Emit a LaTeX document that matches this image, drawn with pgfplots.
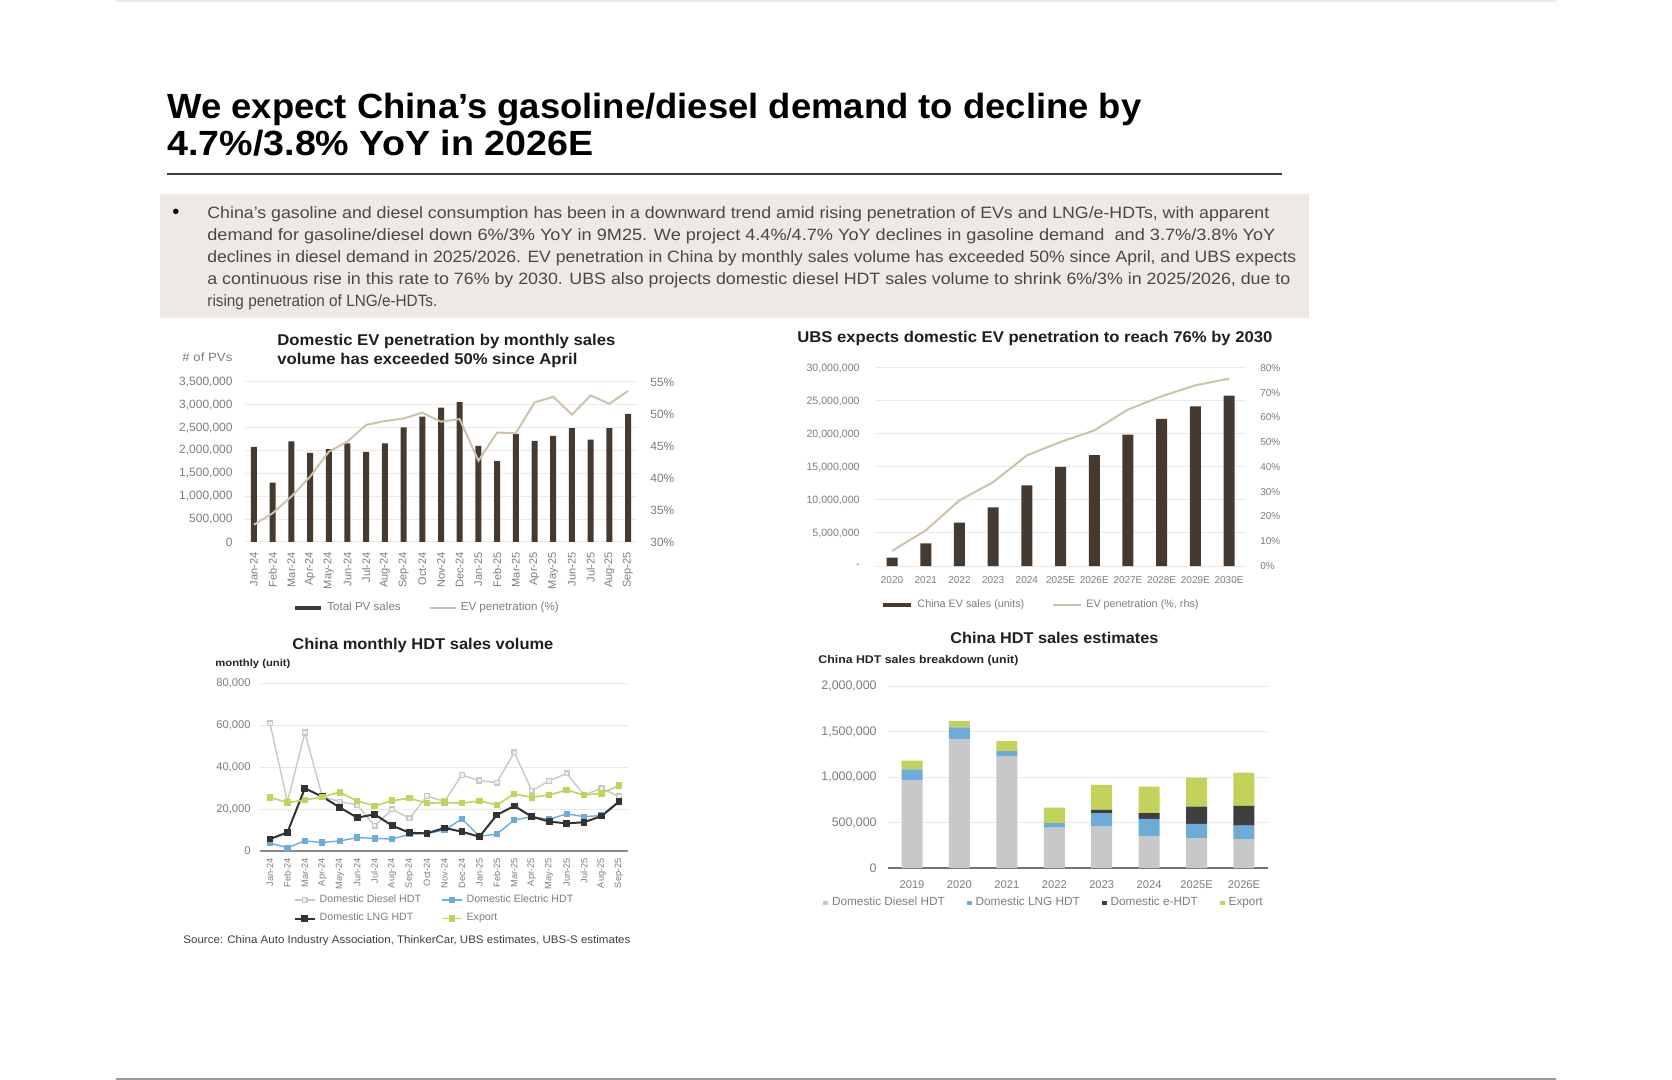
\documentclass[border=0pt]{standalone}
\usepackage{graphicx}
\usepackage{pgfplots}
\pgfplotsset{compat=1.18}
\usepackage{fontspec}
\setmainfont{Liberation Sans}
\setsansfont{Liberation Sans}
\definecolor{barbrown}{RGB}{70,57,48}
\definecolor{beige}{RGB}{206,195,168}
\definecolor{tickgray}{RGB}{125,125,125}
\definecolor{gridgray}{RGB}{234,234,234}
\definecolor{boxgray}{RGB}{237,234,230}
\definecolor{bodygray}{RGB}{72,72,72}
\definecolor{dieselgray}{RGB}{200,200,200}
\definecolor{elecblue}{RGB}{108,172,215}
\definecolor{lngblack}{RGB}{50,50,50}
\definecolor{exportgreen}{RGB}{196,210,92}
\definecolor{ehdt}{RGB}{62,62,62}
\newcommand{\fw}[2]{\resizebox{#1}{\height}{#2}}
\pgfplotsset{
  slide/.style={scale only axis, axis line style={draw=none},
    major tick style={draw=none}, minor tick style={draw=none},
    ymajorgrids, grid style={draw=gridgray, line width=0.5pt},
    every tick label/.append style={inner sep=0pt, text=tickgray},
    /pgf/number format/assume math mode=true,
    scaled y ticks=false,
    yticklabel style={/pgf/number format/fixed, /pgf/number format/1000 sep={,}},
    clip=false,
    legend style={draw=none, fill=none, text=tickgray, inner sep=0pt},
    legend cell align=left,
  }
}
\begin{document}
\begin{tikzpicture}
\useasboundingbox (0,0) rectangle (836pt,-540pt);
\fill[white] (0,0) rectangle (836pt,-540pt);
\begin{scope}[x=0.5pt,y=-0.5pt]
\draw[black!8, line width=0.8pt] (116,1) -- (1557,1);
\draw[black!40, line width=1pt] (116,1078.5) -- (1556,1078.5);
\node[anchor=base west, inner sep=0pt, font=\bfseries\fontsize{17.5}{18}\selectfont] at (167,119) {\fw{487pt}{We expect China's gasoline/diesel demand to decline by}};
\node[anchor=base west, inner sep=0pt, font=\bfseries\fontsize{17.5}{18}\selectfont] at (167,156) {\fw{213pt}{4.7\%/3.8\% YoY in 2026E}};
\draw[black!75, line width=1pt] (167,174) -- (1282,174);
\fill[boxgray] (160,194) rectangle (1309,318);
\node[anchor=base west, inner sep=0pt, font=\fontsize{10}{10}\selectfont] at (172,219) {\textbullet};
\begin{scope}[every node/.style={anchor=base west, inner sep=0pt, text=bodygray, font=\fontsize{8.2}{9}\selectfont}]
\node at (207,218.6) {\fw{531pt}{China's gasoline and diesel consumption has been in a downward trend amid rising penetration of EVs and LNG/e-HDTs, with apparent}};
\node at (207,240.5) {\fw{534pt}{demand for gasoline/diesel down 6\%/3\% YoY in 9M25. We project 4.4\%/4.7\% YoY declines in gasoline demand \ and 3.7\%/3.8\% YoY}};
\node at (207,262.4) {\fw{544.5pt}{declines in diesel demand in 2025/2026. EV penetration in China by monthly sales volume has exceeded 50\% since April, and UBS expects}};
\node at (207,284.3) {\fw{541.5pt}{a continuous rise in this rate to 76\% by 2030. UBS also projects domestic diesel HDT sales volume to shrink 6\%/3\% in 2025/2026, due to}};
\node at (207,306.2) {\fw{115pt}{rising penetration of LNG/e-HDTs.}};
\end{scope}
\begin{scope}[every node/.style={anchor=base west, inner sep=0pt, text=black!88, font=\bfseries\fontsize{7.8}{8}\selectfont}]
\node at (277,345.7) {\fw{169pt}{Domestic EV penetration by monthly sales}};
\node at (277,365) {\fw{150pt}{volume has exceeded 50\% since April}};
\node at (797,343) {\fw{237.5pt}{UBS expects domestic EV penetration to reach 76\% by 2030}};
\node at (292,650) {\fw{130.5pt}{China monthly HDT sales volume}};
\node at (950,644) {\fw{104pt}{China HDT sales estimates}};
\end{scope}
\node[anchor=base west, inner sep=0pt, text=tickgray, font=\fontsize{6}{6}\selectfont] at (182,361.7) {\fw{25pt}{\# of PVs}};
\node[anchor=base west, inner sep=0pt, text=black!85, font=\bfseries\fontsize{5}{5}\selectfont] at (215,666.7) {\fw{37.5pt}{monthly (unit)}};
\node[anchor=base west, inner sep=0pt, text=black!85, font=\bfseries\fontsize{5.6}{6}\selectfont] at (818,663) {\fw{100pt}{China HDT sales breakdown (unit)}};
\node[anchor=base west, inner sep=0pt, text=black!75, font=\fontsize{5.5}{6}\selectfont] at (183,943) {\fw{223.5pt}{Source: China Auto Industry Association, ThinkerCar, UBS estimates, UBS-S estimates}};
\end{scope}

% ---------- Chart 1 ----------
\begin{axis}[slide, at={(122.3pt,-271pt)}, anchor=south west, width=196.4pt, height=80pt,
  xmin=-0.5, xmax=20.5, ymin=0, ymax=3500000,
  ytick={0,500000,1000000,1500000,2000000,2500000,3000000,3500000},
  xtick={0,...,20},
  xticklabels={Jan-24,Feb-24,Mar-24,Apr-24,May-24,Jun-24,Jul-24,Aug-24,Sep-24,Oct-24,Nov-24,Dec-24,Jan-25,Feb-25,Mar-25,Apr-25,May-25,Jun-25,Jul-25,Aug-25,Sep-25},
  xticklabel style={rotate=90, anchor=east, font=\fontsize{5.5}{6}\selectfont},
  xticklabel shift=5pt,
  yticklabel style={font=\fontsize{6}{6}\selectfont}, yticklabel shift=5.8pt]
\addplot[ybar, bar width=3pt, fill=barbrown, draw=none] coordinates {
(0,2080000) (1,1300000) (2,2200000) (3,1950000) (4,2030000) (5,2160000) (6,1970000)
(7,2160000) (8,2510000) (9,2740000) (10,2940000) (11,3060000) (12,2100000) (13,1770000)
(14,2360000) (15,2210000) (16,2320000) (17,2490000) (18,2240000) (19,2490000) (20,2800000)};
\end{axis}
\begin{axis}[slide, at={(122.3pt,-271pt)}, anchor=south west, width=196.4pt, height=80pt,
  xmin=-0.5, xmax=20.5, ymin=30, ymax=55, ymajorgrids=false,
  hide x axis, axis y line*=right,
  ytick={30,35,40,45,50,55}, yticklabel={\pgfmathprintnumber{\tick}\%},
  yticklabel style={font=\fontsize{6}{6}\selectfont}, yticklabel shift=6.3pt,
  legend style={at={(0.467,-0.4125)}, anchor=center, legend columns=2,
    font=\fontsize{5.8}{6}\selectfont, /tikz/every even column/.append style={column sep=12pt}},
  legend image code/.code={\draw[#1] (0pt,0pt) -- (13pt,0pt);}]
\addlegendimage{barbrown, line width=2pt}
\addlegendentry{Total PV sales}
\addplot[beige, line width=1pt] coordinates {
(0,32.7) (1,34.5) (2,37.1) (3,40.2) (4,44.1) (5,45.7) (6,48.3) (7,48.9) (8,49.3) (9,50.2)
(10,48.8) (11,49.2) (12,42.7) (13,47.1) (14,47.0) (15,51.8) (16,52.7) (17,49.9) (18,52.9)
(19,51.6) (20,53.6)};
\addlegendentry{EV penetration (\%)}
\end{axis}

% ---------- Chart 2 ----------
\begin{axis}[slide, at={(437.6pt,-283pt)}, anchor=south west, width=185.35pt, height=99pt,
  xmin=-0.5, xmax=10.5, ymin=0, ymax=30000000,
  ytick={0,5000000,10000000,15000000,20000000,25000000,30000000},
  yticklabels={-,{5,000,000},{10,000,000},{15,000,000},{20,000,000},{25,000,000},{30,000,000}},
  xtick={0,...,10},
  xticklabels={2020,2021,2022,2023,2024,2025E,2026E,2027E,2028E,2029E,2030E},
  xticklabel style={anchor=north, font=\fontsize{5}{5}\selectfont}, xticklabel shift=5pt,
  yticklabel style={font=\fontsize{5.3}{6}\selectfont}, yticklabel shift=7.6pt]
\addplot[ybar, bar width=5.5pt, fill=barbrown, draw=none] coordinates {
(0,1260000) (1,3430000) (2,6570000) (3,8890000) (4,12200000) (5,15000000) (6,16800000)
(7,19900000) (8,22300000) (9,24200000) (10,25800000)};
\end{axis}
\begin{axis}[slide, at={(437.6pt,-283pt)}, anchor=south west, width=185.35pt, height=99pt,
  xmin=-0.5, xmax=10.5, ymin=0, ymax=80, ymajorgrids=false,
  hide x axis, axis y line*=right,
  ytick={0,10,20,30,40,50,60,70,80}, yticklabel={\pgfmathprintnumber{\tick}\%},
  yticklabel style={font=\fontsize{5}{5}\selectfont}, yticklabel shift=7pt,
  legend style={at={(0.45,-0.197)}, anchor=center, legend columns=2,
    font=\fontsize{5.4}{6}\selectfont, /tikz/every even column/.append style={column sep=12pt}},
  legend image code/.code={\draw[#1] (0pt,0pt) -- (14pt,0pt);}]
\addlegendimage{barbrown, line width=2pt}
\addlegendentry{China EV sales (units)}
\addplot[beige, line width=1pt] coordinates {
(0,6.1) (1,14.4) (2,26.5) (3,33.9) (4,44.7) (5,50.1) (6,54.8) (7,63.2) (8,68.6) (9,73.0) (10,75.7)};
\addlegendentry{EV penetration (\%, rhs)}
\end{axis}

% ---------- Chart 3 ----------
\begin{axis}[slide, at={(129.75pt,-425.5pt)}, anchor=south west, width=184.1pt, height=83.85pt,
  xmin=-0.6, xmax=20.5, ymin=0, ymax=80000,
  ytick={0,20000,40000,60000,80000},
  extra y ticks={0}, extra y tick labels={},
  extra y tick style={grid style={draw=black!45, line width=1.1pt}},
  xtick={0,...,20},
  xticklabels={Jan-24,Feb-24,Mar-24,Apr-24,May-24,Jun-24,Jul-24,Aug-24,Sep-24,Oct-24,Nov-24,Dec-24,Jan-25,Feb-25,Mar-25,Apr-25,May-25,Jun-25,Jul-25,Aug-25,Sep-25},
  xticklabel style={rotate=90, anchor=east, font=\fontsize{4.6}{5}\selectfont},
  xticklabel shift=3.5pt,
  yticklabel style={font=\fontsize{5.6}{6}\selectfont}, yticklabel shift=4.25pt,
  legend style={at={(0.478,-0.347)}, anchor=center, legend columns=2,
    font=\fontsize{5.3}{6}\selectfont, row sep=0pt,
    /tikz/every even column/.append style={column sep=8pt}},
  legend image code/.code={\draw[mark repeat=2, mark phase=2, #1] plot coordinates {(0pt,0pt) (5pt,0pt) (10pt,0pt)};},
  every axis plot/.append style={mark=square*, mark size=1.2pt}]
\addplot[dieselgray, line width=0.7pt, mark options={fill=white!70!dieselgray}] coordinates {
(0,60900) (1,23500) (2,56500) (3,26000) (4,23500) (5,22000) (6,12100) (7,19900) (8,15600)
(9,26300) (10,23600) (11,36300) (12,33600) (13,32600) (14,47100) (15,28800) (16,33400)
(17,37100) (18,26700) (19,29900) (20,26000)};
\addlegendentry{Domestic Diesel HDT}
\addplot[elecblue, line width=0.7pt] coordinates {
(0,3700) (1,1600) (2,4800) (3,4100) (4,4800) (5,6400) (6,6000) (7,5700) (8,8000) (9,8400)
(10,10000) (11,15300) (12,7000) (13,8100) (14,14800) (15,16400) (16,15100) (17,17700)
(18,16400) (19,16900) (20,23500)};
\addlegendentry{Domestic Electric HDT}
\addplot[lngblack, line width=1pt] coordinates {
(0,5700) (1,8900) (2,29900) (3,25900) (4,20800) (5,15900) (6,17500) (7,12100) (8,8700)
(9,8400) (10,11000) (11,9200) (12,6800) (13,17200) (14,21500) (15,16400) (16,14000)
(17,13200) (18,13700) (19,16700) (20,23500)};
\addlegendentry{Domestic LNG HDT}
\addplot[exportgreen, line width=0.8pt] coordinates {
(0,25600) (1,23100) (2,24300) (3,25900) (4,28000) (5,23900) (6,21500) (7,24000) (8,25200)
(9,22800) (10,23100) (11,22800) (12,23900) (13,22000) (14,27200) (15,25600) (16,26700)
(17,29100) (18,26700) (19,27500) (20,31200)};
\addlegendentry{Export}
\end{axis}

% ---------- Chart 4 ----------
\begin{axis}[slide, ybar stacked, bar width=10.5pt,
  at={(444.15pt,-434pt)}, anchor=south west, width=189.7pt, height=91pt,
  xmin=-0.5, xmax=7.5, ymin=0, ymax=2000000,
  ytick={0,500000,1000000,1500000,2000000},
  extra y ticks={0}, extra y tick labels={},
  extra y tick style={grid style={draw=black!55, line width=1.1pt}},
  xtick={0,...,7},
  xticklabels={2019,2020,2021,2022,2023,2024,2025E,2026E},
  xticklabel style={anchor=north, font=\fontsize{5.6}{6}\selectfont}, xticklabel shift=6pt,
  yticklabel style={font=\fontsize{6.2}{6}\selectfont}, yticklabel shift=5.65pt,
  legend style={at={(0.413,-0.192)}, anchor=center, legend columns=4,
    font=\fontsize{5.9}{6}\selectfont,
    /tikz/every even column/.append style={column sep=9pt}},
  legend image code/.code={\fill[#1] (0pt,-1.2pt) rectangle (2.4pt,1.2pt);}]
\addplot[fill=dieselgray, draw=none] coordinates {
(0,967000) (1,1416000) (2,1223000) (3,445000) (4,456000) (5,347000) (6,329000) (7,318000)};
\addlegendentry{Domestic Diesel HDT}
\addplot[fill=elecblue, draw=none] coordinates {
(0,117000) (1,128000) (2,62000) (3,48000) (4,146000) (5,193000) (6,156000) (7,149000)};
\addlegendentry{Domestic LNG HDT}
\addplot[fill=ehdt, draw=none] coordinates {
(0,0) (1,0) (2,0) (3,0) (4,37000) (5,62000) (6,190000) (7,216000)};
\addlegendentry{Domestic e-HDT}
\addplot[fill=exportgreen, draw=none] coordinates {
(0,95000) (1,73000) (2,109000) (3,171000) (4,274000) (5,292000) (6,318000) (7,365000)};
\addlegendentry{Export}
\end{axis}
\end{tikzpicture}
\end{document}
